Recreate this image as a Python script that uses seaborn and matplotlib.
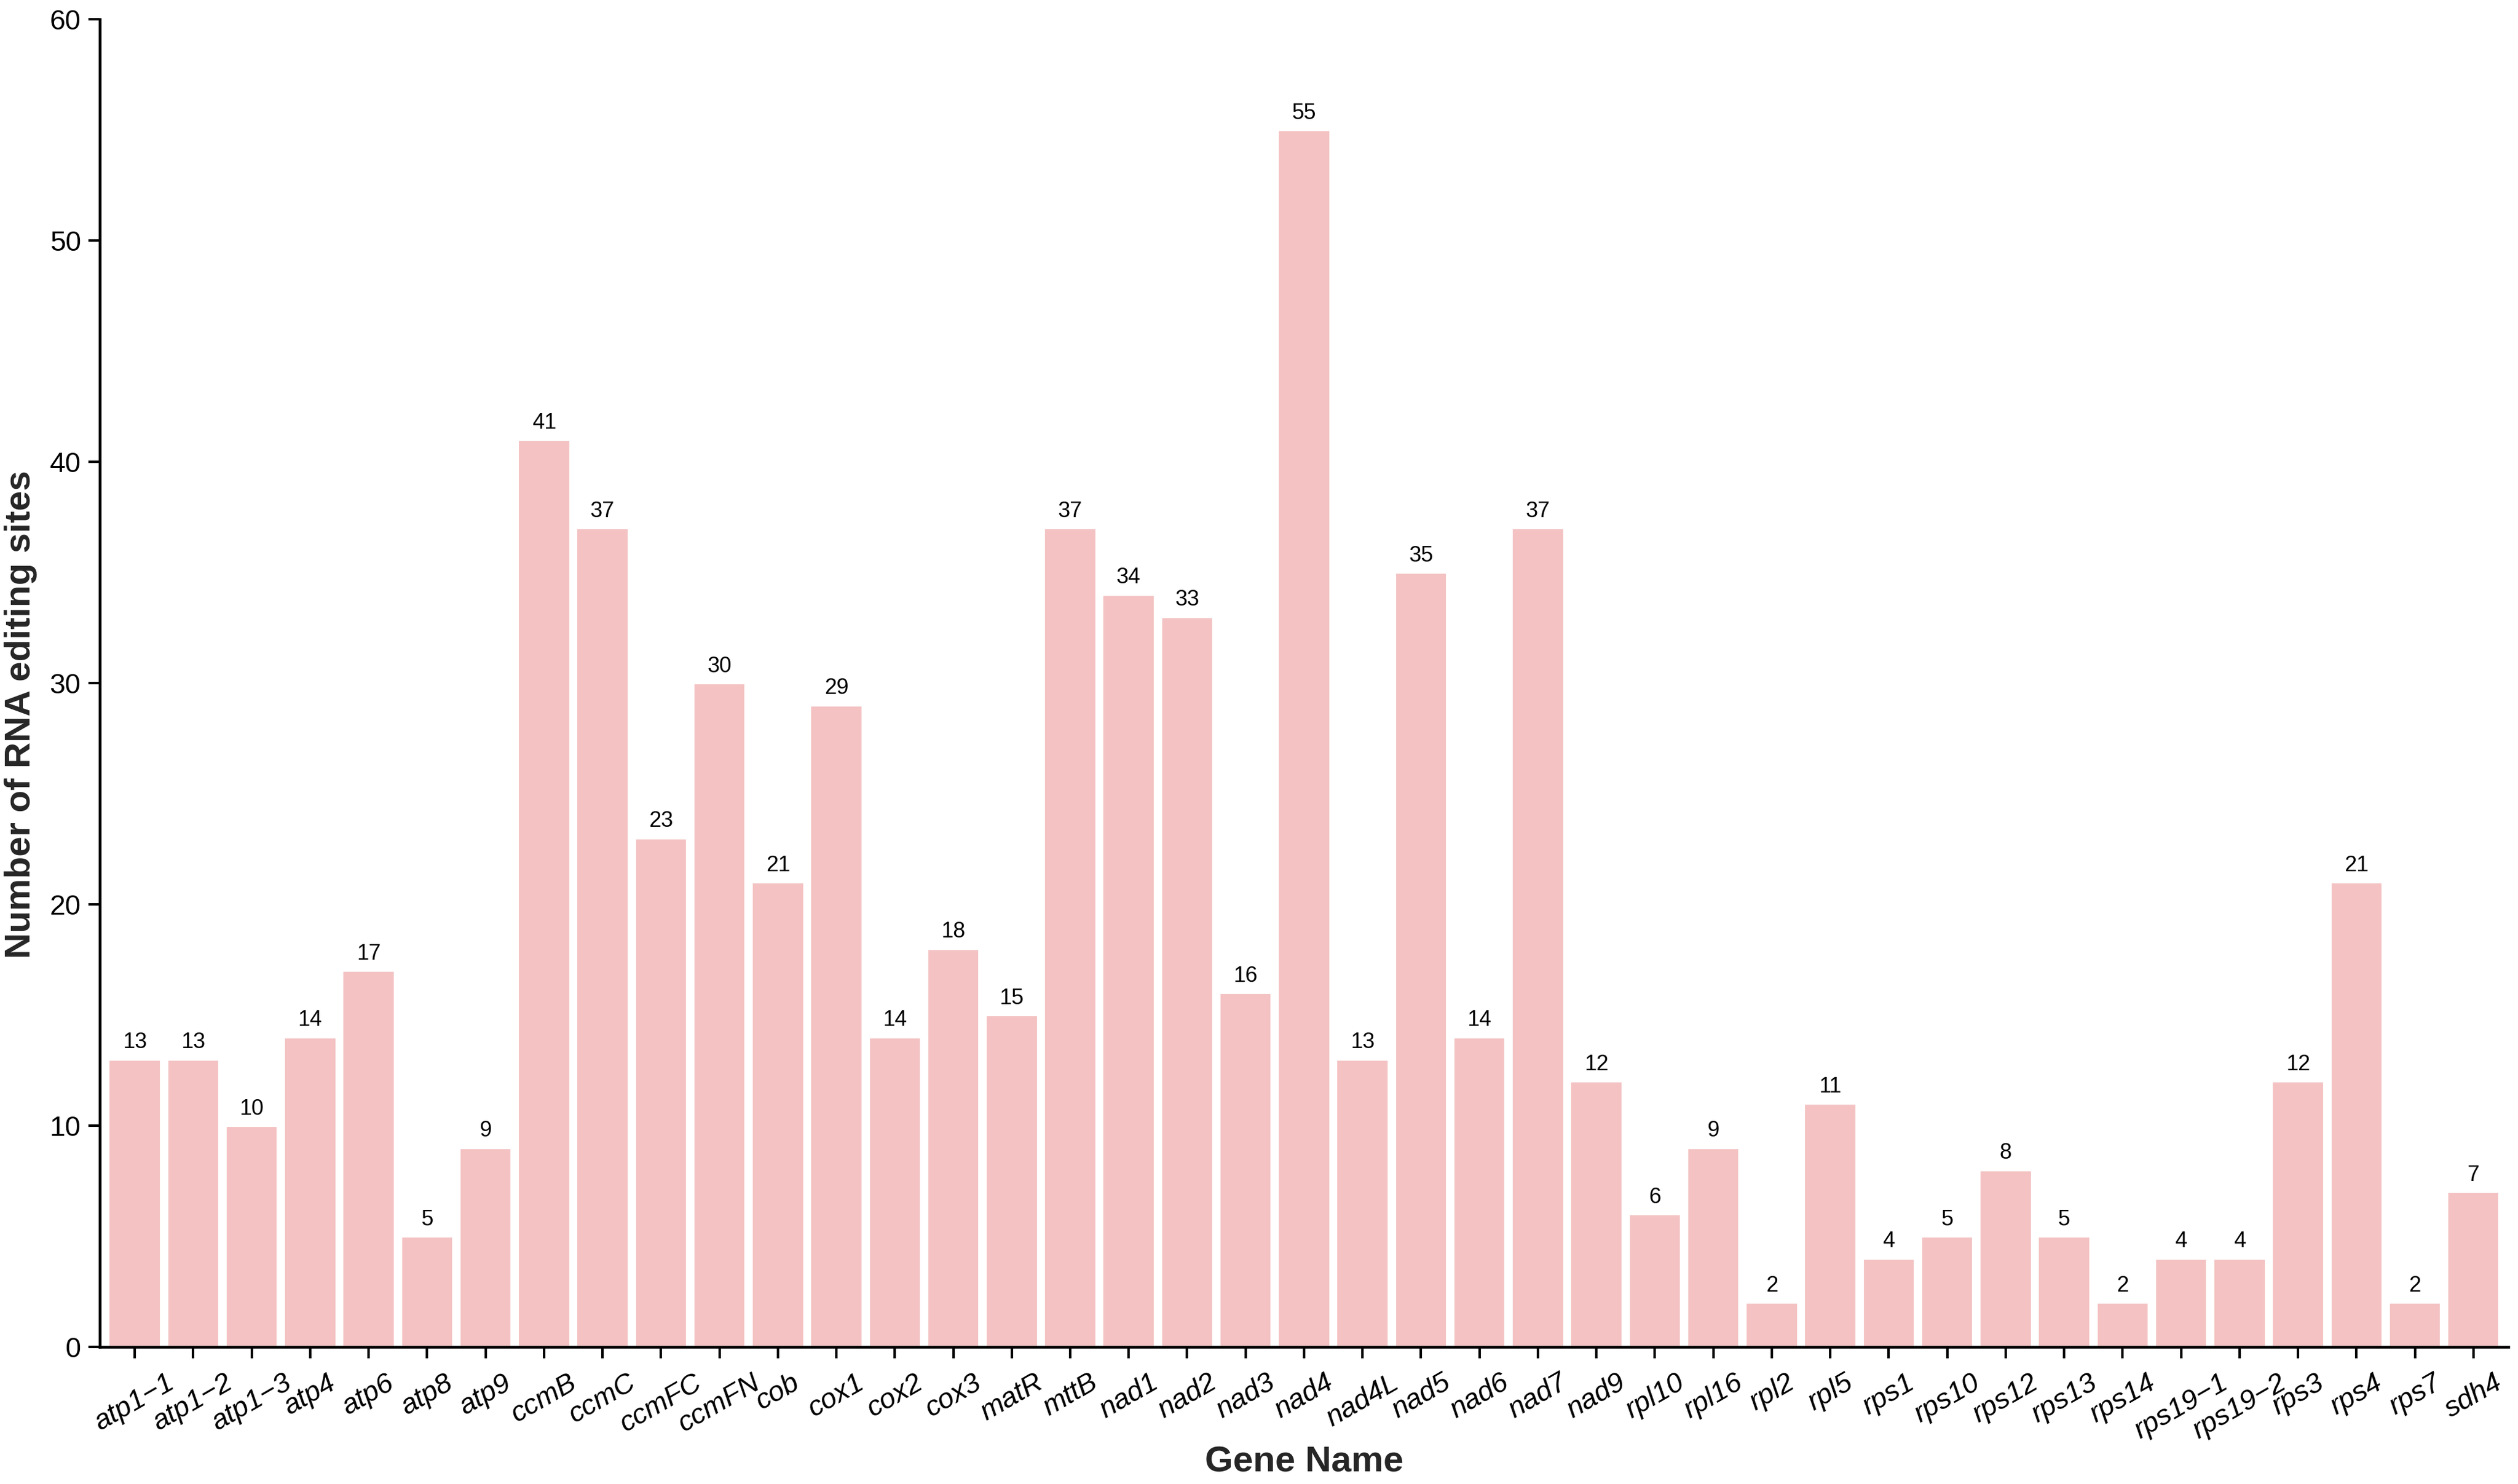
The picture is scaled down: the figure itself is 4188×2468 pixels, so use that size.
import pandas as pd
import seaborn as sns
import matplotlib.pyplot as plt

genes = ["atp1\u22121", "atp1\u22122", "atp1\u22123", "atp4", "atp6", "atp8", "atp9",
         "ccmB", "ccmC", "ccmFC", "ccmFN", "cob", "cox1", "cox2", "cox3", "matR",
         "mttB", "nad1", "nad2", "nad3", "nad4", "nad4L", "nad5", "nad6", "nad7",
         "nad9", "rpl10", "rpl16", "rpl2", "rpl5", "rps1", "rps10", "rps12", "rps13",
         "rps14", "rps19\u22121", "rps19\u22122", "rps3", "rps4", "rps7", "sdh4"]
sites = [13, 13, 10, 14, 17, 5, 9, 41, 37, 23, 30, 21, 29, 14, 18, 15,
         37, 34, 33, 16, 55, 13, 35, 14, 37, 12, 6, 9, 2, 11, 4, 5, 8, 5,
         2, 4, 4, 12, 21, 2, 7]
y_ticks = [0, 10, 20, 30, 40, 50, 60]

df = pd.DataFrame({'gene': genes, 'sites': sites})

sns.set_style('ticks')
plt.rcParams['font.family'] = ['Liberation Sans', 'DejaVu Sans']

fig = plt.figure(figsize=(13.96, 8.2267), dpi=300)
ax = fig.add_axes([0.0396, 0.0924, 0.9566, 0.8946])

sns.barplot(data=df, x='gene', y='sites', color='#F4C2C2', saturation=1,
            width=0.9, ax=ax, errorbar=None)

# value labels above bars
for i, v in enumerate(df['sites']):
    ax.annotate(str(v), (i, v), xytext=(0, 2.5), textcoords='offset points',
                ha='center', va='bottom', fontsize=8.7, color='black')

ax.set_xlim(-0.6, len(genes) - 0.4)
ax.set_ylim(0, 60)
ax.set_yticks(y_ticks)

for side in ['top', 'right']:
    ax.spines[side].set_visible(False)
for side in ['left', 'bottom']:
    ax.spines[side].set_linewidth(1.1)
    ax.spines[side].set_color('black')

ax.tick_params(axis='both', length=4.5, width=1.0, color='black',
               labelcolor='black')
ax.tick_params(axis='y', labelsize=11.2, pad=3)
ax.tick_params(axis='x', labelsize=11.3, pad=4.5)
for lab in ax.get_xticklabels():
    lab.set_rotation(30)
    lab.set_ha('center')
    lab.set_va('top')
    lab.set_style('italic')

ax.set_xlabel('Gene Name', fontsize=14.4, fontweight='bold')
ax.set_ylabel('Number of RNA editing sites', fontsize=14.4, fontweight='bold')
ax.xaxis.label.set_va('center')
ax.yaxis.label.set_va('center')
ax.xaxis.set_label_coords(0.5, -0.087)
ax.yaxis.set_label_coords(-0.0328, 0.4765)

plt.savefig('out.png', dpi=300)
